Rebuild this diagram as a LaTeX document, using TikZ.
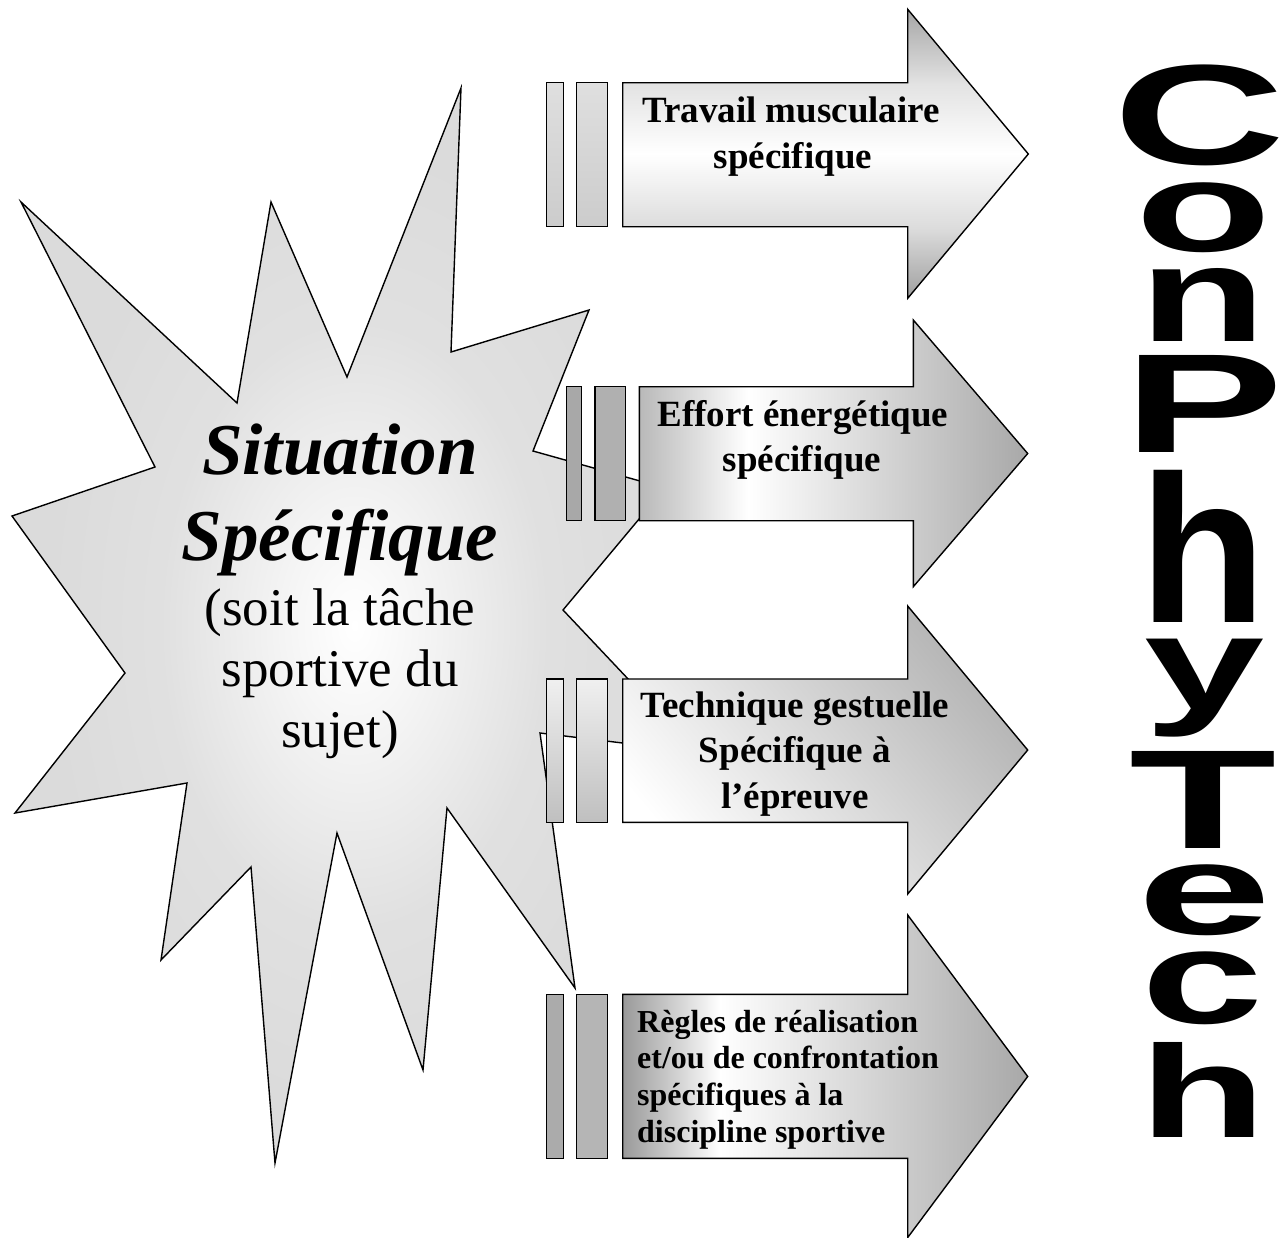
\documentclass[tikz,border=0pt]{standalone}
\usepackage{fontspec}
\usepackage{graphicx}
\setmainfont{Liberation Serif}
\newfontfamily\wordart{Liberation Sans}

% soft glow for the burst
\pgfdeclareradialshading{starglow}{\pgfpoint{0bp}{0bp}}{color(0bp)=(white); color(5bp)=(gray!8); color(14bp)=(gray!24); color(22bp)=(gray!28); color(50bp)=(gray!28)}
% arrow fills (the band 25bp..75bp spans the shape)
\pgfdeclareverticalshading{muscleshade}{100bp}{color(0bp)=(gray!75); color(25bp)=(gray!75); color(37bp)=(gray!28); color(50bp)=(white); color(62bp)=(gray!22); color(75bp)=(gray!70); color(100bp)=(gray!70)}
\pgfdeclarehorizontalshading{effortshade}{100bp}{color(0bp)=(gray!55); color(25bp)=(gray!55); color(39bp)=(white); color(75bp)=(gray!68); color(100bp)=(gray!68)}
\pgfdeclarehorizontalshading{reglesshade}{100bp}{color(0bp)=(gray!80); color(25bp)=(gray!80); color(37bp)=(white); color(75bp)=(gray!68); color(100bp)=(gray!68)}

\begin{document}
\begin{tikzpicture}[x=1bp,y=-1bp,
  outline/.style={draw=black, line width=1.4bp},
  startitle/.style={font=\fontsize{73bp}{80bp}\selectfont\bfseries\itshape, anchor=base, inner sep=0},
  starline/.style={font=\fontsize{53bp}{60bp}\selectfont, anchor=base, inner sep=0},
  arrowtext/.style={font=\fontsize{37bp}{42bp}\selectfont\bfseries, anchor=base, inner sep=0},
  rulestext/.style={font=\fontsize{32bp}{36bp}\selectfont\bfseries, anchor=base west, inner sep=0},
  letter/.style={inner sep=0, outer sep=0, anchor=north}]
\useasboundingbox (0,0) rectangle (1284,1238);

% ---- the burst ----
\shadedraw[outline, shading=starglow]
  (461,88) -- (451,352) -- (589,310) -- (533,451) -- (665,488) -- (563,610)
  -- (697,752) -- (540,733) -- (575,988) -- (447,808) -- (423,1070) -- (337,833)
  -- (275,1163) -- (251,867) -- (161,960) -- (187,783) -- (15,813) -- (125,673)
  -- (12,516) -- (155,467) -- (21,202) -- (237,403) -- (271,202) -- (347,377) -- cycle;

\node[startitle] (sit) at (340,474) {Situation};
\node[startitle] (spe) at (340,560) {Spécifique};
\node[starline] (soit) at (340,625) {(soit la tâche};
\node[starline] (spor) at (340,686) {sportive du};
\node[starline] (suj) at (340,747) {sujet)};

% ---- arrow 1 ----
\shadedraw[outline, top color=gray!25, middle color=white, bottom color=gray!40] (546.7,82.7) rectangle (563.3,226.7);
\shadedraw[outline, top color=gray!25, middle color=white, bottom color=gray!40] (576.7,82.7) rectangle (607.3,226.7);
\shadedraw[outline, shading=muscleshade]
  (622.7,82.7) -- (907.7,82.7) -- (907.7,9.3) -- (1028.3,154) -- (907.7,298.3)
  -- (907.7,226.7) -- (622.7,226.7) -- cycle;
\node[arrowtext] (a1l1) at (791,122) {Travail musculaire};
\node[arrowtext] (a1l2) at (793,168) {spécifique};

% ---- arrow 2 ----
\filldraw[outline, fill=gray!68] (566.7,386.7) rectangle (581.7,520.7);
\filldraw[outline, fill=gray!62] (595,386.7) rectangle (625.7,520.7);
\shadedraw[outline, shading=effortshade]
  (639.3,386.7) -- (913.3,386.7) -- (913.3,320) -- (1027.7,453.5) -- (913.3,586.7)
  -- (913.3,520.7) -- (639.3,520.7) -- cycle;
\node[arrowtext] (a2l1) at (803,426) {Effort énergétique};
\node[arrowtext] (a2l2) at (802,471) {spécifique};

% ---- arrow 3 ----
\shadedraw[outline, top color=gray!12, bottom color=gray!50] (546.7,679) rectangle (563.3,822.3);
\shadedraw[outline, top color=gray!12, bottom color=gray!50] (576.7,679) rectangle (607.3,822.3);
\shadedraw[outline, bottom color=white, middle color=gray!12, top color=gray!60, shading angle=-50]
  (622.7,679) -- (907.7,679) -- (907.7,606) -- (1027.7,750) -- (907.7,894)
  -- (907.7,822.3) -- (622.7,822.3) -- cycle;
\node[arrowtext] (a3l1) at (795,717) {Technique gestuelle};
\node[arrowtext] (a3l2) at (795,762) {Spécifique à};
\node[arrowtext] (a3l3) at (795,808) {l’épreuve};

% ---- arrow 4 ----
\filldraw[outline, fill=gray!66] (546.7,994.3) rectangle (563.3,1158.3);
\filldraw[outline, fill=gray!58] (576.7,994.3) rectangle (607.3,1158.3);
\shadedraw[outline, shading=reglesshade]
  (622.7,994.3) -- (907.7,994.3) -- (907.7,915) -- (1027.7,1076.5) -- (907.7,1237.5)
  -- (907.7,1158.3) -- (622.7,1158.3) -- cycle;
\node[rulestext] (a4l1) at (637,1032) {Règles de réalisation};
\node[rulestext] (a4l2) at (637,1068) {et/ou de confrontation};
\node[rulestext] (a4l3) at (637,1105) {spécifiques à la};
\node[rulestext] (a4l4) at (637,1142) {discipline sportive};

% ---- vertical word ----
\node[letter] (lC)  at (1200,65)   {\resizebox*{172bp}{101bp}{\wordart\bfseries C}};
\node[letter] (lo)  at (1204,183)  {\resizebox*{136bp}{70bp}{\wordart\bfseries o}};
\node[letter] (ln)  at (1203.5,268) {\resizebox*{127bp}{73bp}{\wordart\bfseries n}};
\node[letter] (lP)  at (1204,355)  {\resizebox*{160bp}{97bp}{\wordart\bfseries P}};
\node[letter] (lh)  at (1203.5,470) {\resizebox*{127bp}{152bp}{\wordart\bfseries h}};
\node[letter] (ly)  at (1204.5,639) {\resizebox*{120bp}{98bp}{\wordart\bfseries y}};
\node[letter] (lT)  at (1203.5,751) {\resizebox*{147bp}{97bp}{\wordart\bfseries T}};
\node[letter] (le)  at (1204.5,865) {\resizebox*{134bp}{71bp}{\wordart\bfseries e}};
\node[letter] (lc)  at (1203,952)  {\resizebox*{122bp}{73bp}{\wordart\bfseries c}};
\node[letter] (lh2) at (1203.5,1042) {\resizebox*{127bp}{95bp}{\wordart\bfseries h}};
\end{tikzpicture}
\end{document}
